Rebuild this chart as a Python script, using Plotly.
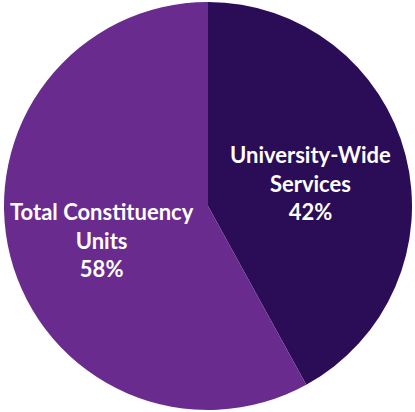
import plotly.graph_objects as go

labels = ["University-Wide Services", "Total Constituency Units"]
values = [42, 58]
colors = ["#2b0c57", "#6a2b8e"]
label_text = ["University-Wide<br>Services<br>42%", "Total Constituency<br>Units<br>58%"]

fig = go.Figure(go.Pie(
    labels=labels, values=values, sort=False, direction="clockwise", rotation=0,
    marker=dict(colors=colors, line=dict(width=0)),
    textinfo="none", hoverinfo="label+percent", showlegend=False,
))

# label positions (paper coords)
pos = [(311 / 415, 1 - 183 / 412), (100 / 415, 1 - 240 / 412)]
for (x, y), t in zip(pos, label_text):
    fig.add_annotation(x=x, y=y, xref="paper", yref="paper", text=t, showarrow=False,
                       font=dict(family="Lato", size=22, color="white", weight="bold"),
                       align="center", xanchor="center", yanchor="middle")

fig.update_layout(width=415, height=412, margin=dict(l=3, r=2, t=2, b=2),
                  paper_bgcolor="white", plot_bgcolor="white")
fig.write_html("out.html", config={"displayModeBar": False},
               post_script="document.body.style.margin='0';document.body.style.overflow='hidden';")
